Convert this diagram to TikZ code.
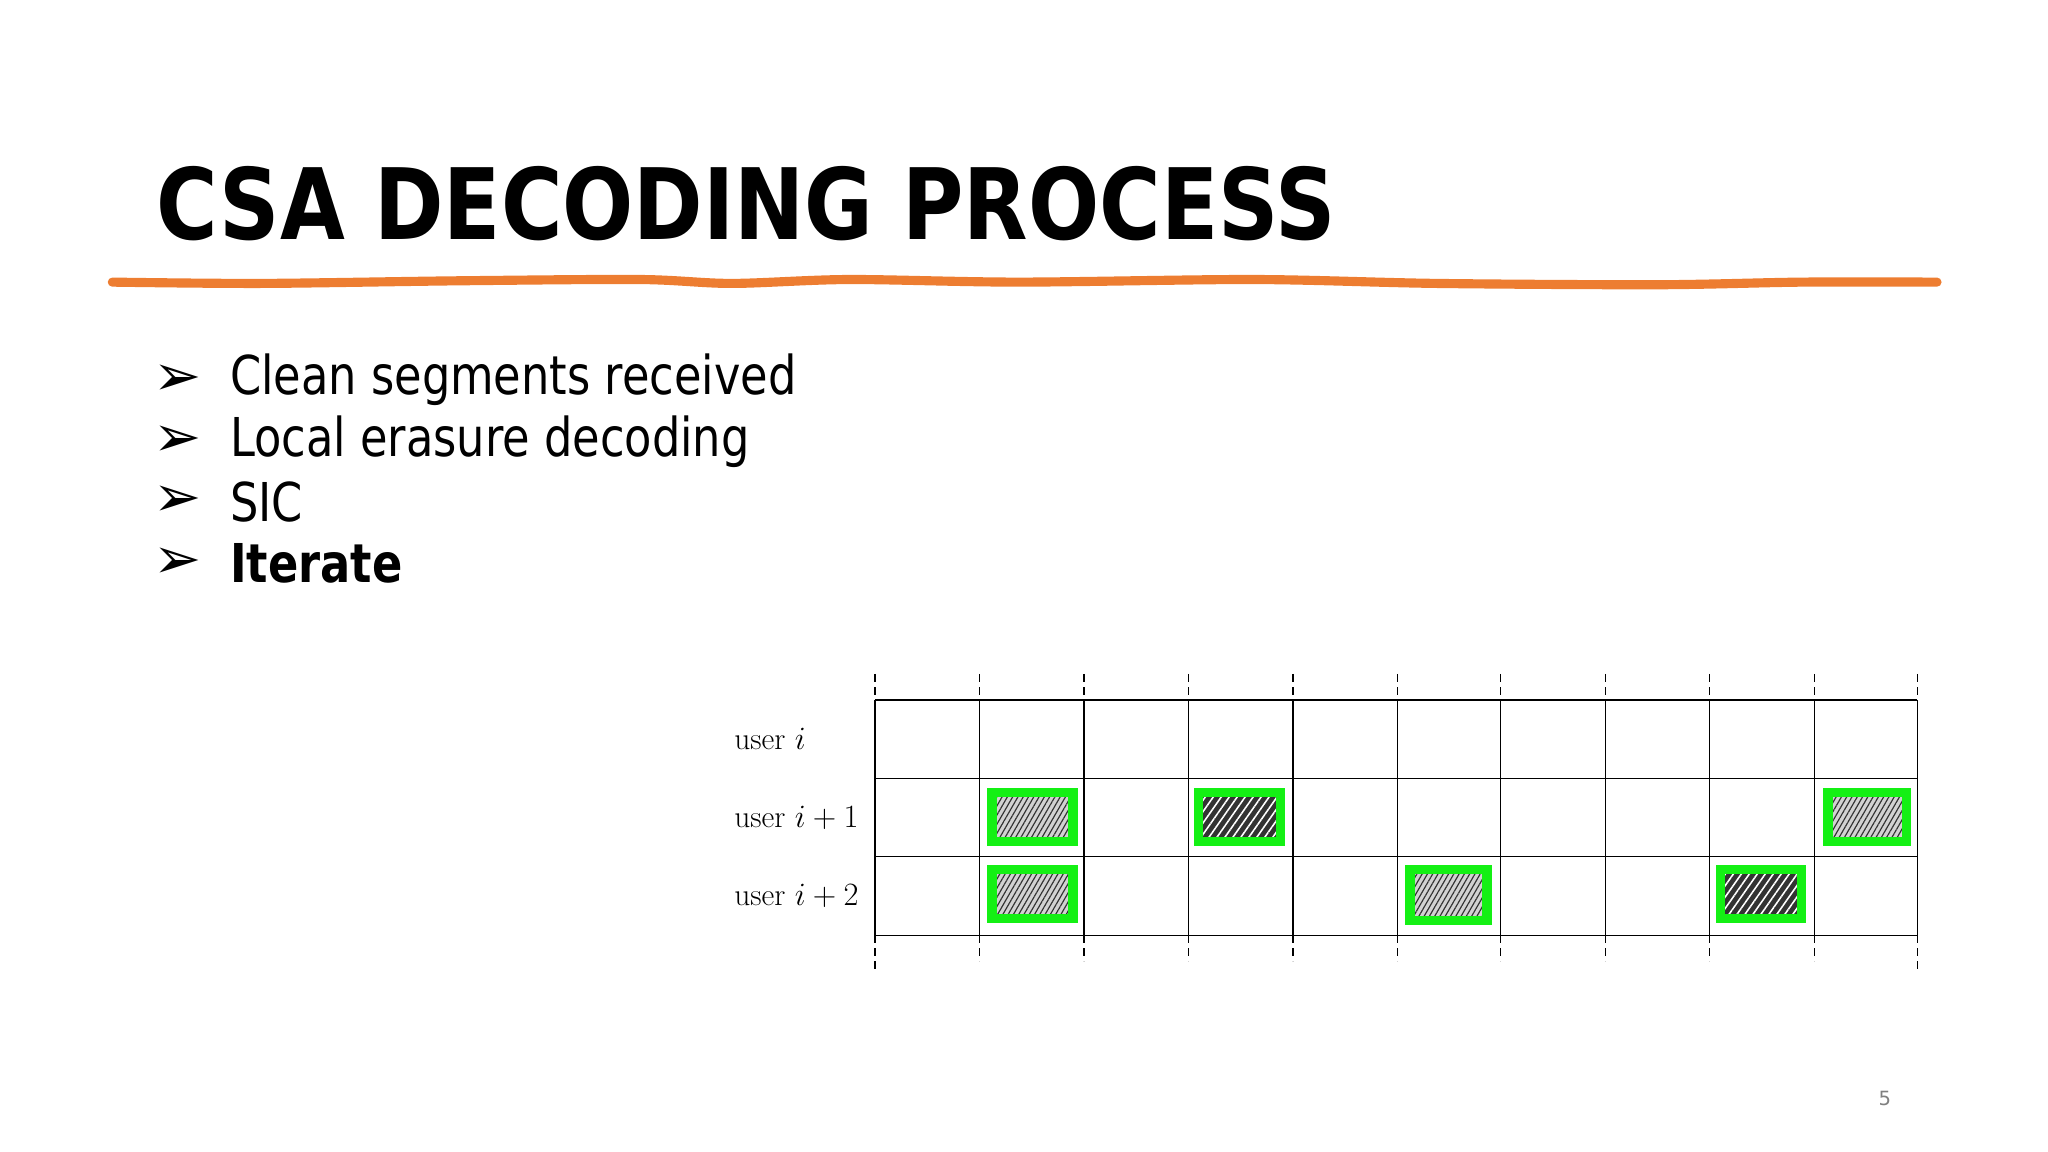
\documentclass[tikz,border=0pt]{standalone}
\usepackage{fontspec}
\setmainfont{DejaVu Sans}
\newfontfamily\cmfont{Latin Modern Roman}
\usetikzlibrary{patterns.meta}
\definecolor{orng}{RGB}{237,125,49}
\definecolor{grn}{RGB}{20,240,20}
\tikzset{
  gline/.style={line width=1pt,black},
  dline/.style={line width=1pt,black,dash pattern=on 6pt off 4pt},
  lightcell/.style={fill=gray!35,postaction={pattern={Lines[angle=60,distance=3.5pt,line width=0.9pt]},pattern color=black!80},postaction={draw=grn,line width=7pt}},
  darkcell/.style={fill=black!80,postaction={pattern={Lines[angle=55,distance=5pt,line width=1.2pt]},pattern color=white},postaction={draw=grn,line width=7pt}},
  ulabel/.style={anchor=west,font=\cmfont\fontsize{24}{28}\selectfont,inner sep=0pt},
  bul/.style={anchor=west,inner sep=0pt,font=\fontsize{41}{46}\selectfont},
  arr/.style={anchor=west,inner sep=0pt,font=\fontsize{44}{48}\selectfont},
}
\newcommand{\narrow}[1]{\scalebox{0.835}[1]{#1}}
\begin{document}
\begin{tikzpicture}[x=1pt,y=1pt]
\useasboundingbox (0,0) rectangle (1568,-882);
% title
\node[anchor=west,inner sep=0pt] (title) at (120,-156) {\resizebox{902pt}{56pt}{\bfseries CSA DECODING PROCESS}};
% orange wavy line
\draw[orng,line width=7pt,line cap=round] plot[smooth] coordinates {(86,-216) (200,-217) (350,-215) (490,-214) (560,-217) (650,-214) (780,-216) (960,-214) (1100,-217) (1270,-218) (1380,-216) (1483,-216)};
% bullets
\node[arr] (b1a) at (117,-291) {➢};
\node[arr] (b2a) at (117,-338) {➢};
\node[arr] (b3a) at (117,-384) {➢};
\node[arr] (b4a) at (117,-431) {➢};
\node[bul] (b1) at (176,-291) {\narrow{Clean segments received}};
\node[bul] (b2) at (176,-338) {\narrow{Local erasure decoding}};
\node[bul] (b3) at (176,-384) {\narrow{SIC}};
\node[bul] (b4) at (176,-431) {\narrow{\bfseries Iterate}};
% grid
\foreach \y in {-536,-596,-656,-716} \draw[gline] (670,\y) -- (1468,\y);
\foreach \x in {670,750,830,910,990,1070,1149,1229,1309,1389,1468}{
  \draw[gline] (\x,-536) -- (\x,-716);
  \draw[dline] (\x,-516) -- (\x,-536);
  \draw[dline] (\x,-716) -- (\x,-736);
}
\draw[dline] (670,-736) -- (670,-746);
\draw[dline] (1468,-736) -- (1468,-746);
\node[ulabel] (u0) at (562,-566) {user $i$};
\node[ulabel] (u1) at (562,-626) {user $i+1$};
\node[ulabel] (u2) at (562,-686) {user $i+2$};
% boxes
\path[lightcell] (759.5,-606.5) rectangle (821.5,-644.5);
\path[darkcell] (917.5,-606.5) rectangle (980.5,-644.5);
\path[lightcell] (1399.5,-606.5) rectangle (1459.5,-644.5);
\path[lightcell] (759.5,-665.5) rectangle (821.5,-703.5);
\path[lightcell] (1079.5,-665.5) rectangle (1138.5,-704.5);
\path[darkcell] (1317.5,-665.5) rectangle (1379.5,-703.5);
% page number
\node[font=\fontsize{15}{18}\selectfont,text=gray] (pg) at (1443,-841) {5};
\end{tikzpicture}
\end{document}
